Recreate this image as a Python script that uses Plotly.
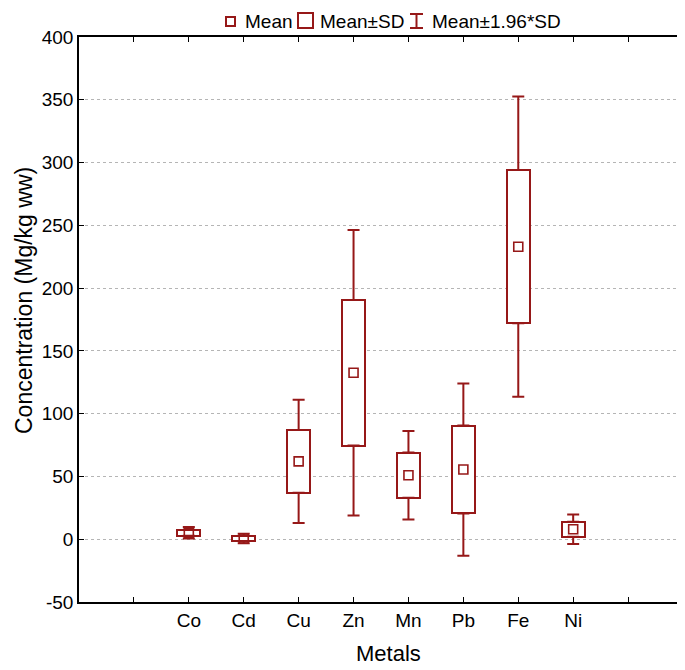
import plotly.graph_objects as go

# data (Mg/kg ww)
metals = ["Co", "Cd", "Cu", "Zn", "Mn", "Pb", "Fe", "Ni"]
means = [5.2, 0.55, 62, 132.6, 51, 55.5, 233, 8]
sds = [2.35, 1.95, 25, 58, 18, 35, 61, 6]
k = 1.96

y_ticks = [-50, 0, 50, 100, 150, 200, 250, 300, 350, 400]

positions = [i + 2 for i in range(len(metals))]
tick_pos = list(range(1, len(metals) + 3))
tick_text = [""] + metals + [""]

RED = "#961818"
FONT = "Liberation Sans, Arial, sans-serif"

# the page body adds an 8px offset, so the figure is a bit smaller than the window
OFF = 8
W, H = 685 - OFF, 670 - OFF
PLOT_L, PLOT_R, PLOT_T, PLOT_B = 79, 683, 37, 602   # plot frame in page pixels
ML, MR = PLOT_L - OFF, W - (PLOT_R - OFF)
MT, MB = PLOT_T - OFF, H - (PLOT_B - OFF)


def px_x(px):
    return (px - PLOT_L) / (PLOT_R - PLOT_L)


def px_y(py):
    return (PLOT_B - py) / (PLOT_B - PLOT_T)


lo_sd = [m - s for m, s in zip(means, sds)]
hi_sd = [m + s for m, s in zip(means, sds)]
ext = [(k - 1) * s for s in sds]

fig = go.Figure()

# upper / lower whiskers (mean +/- SD out to mean +/- 1.96*SD)
fig.add_trace(go.Scatter(
    x=positions, y=hi_sd, mode="markers",
    marker=dict(size=1, color="rgba(0,0,0,0)"),
    error_y=dict(type="data", symmetric=False, array=ext, arrayminus=[0] * len(ext),
                 color=RED, thickness=2, width=6),
    showlegend=False, hoverinfo="skip"))
fig.add_trace(go.Scatter(
    x=positions, y=lo_sd, mode="markers",
    marker=dict(size=1, color="rgba(0,0,0,0)"),
    error_y=dict(type="data", symmetric=False, array=[0] * len(ext), arrayminus=ext,
                 color=RED, thickness=2, width=6),
    showlegend=False, hoverinfo="skip"))

# mean +/- SD box
fig.add_trace(go.Bar(
    x=positions, y=[2 * s for s in sds], base=lo_sd, width=0.42,
    marker=dict(color="white", line=dict(color=RED, width=2)),
    showlegend=False))

# mean marker
fig.add_trace(go.Scatter(
    x=positions, y=means, mode="markers",
    marker=dict(symbol="square-open", size=9, color=RED, line=dict(width=1.6)),
    showlegend=False))

# legend drawn above the plot
LY = 21  # legend centre line, page pixels
shapes = [
    dict(type="rect", x0=px_x(226), x1=px_x(235), y0=px_y(LY + 5), y1=px_y(LY - 4)),
    dict(type="rect", x0=px_x(298), x1=px_x(313), y0=px_y(LY + 7), y1=px_y(LY - 8)),
    dict(type="line", x0=px_x(416.5), x1=px_x(416.5), y0=px_y(LY + 7), y1=px_y(LY - 7)),
    dict(type="line", x0=px_x(410), x1=px_x(423), y0=px_y(LY - 7), y1=px_y(LY - 7)),
    dict(type="line", x0=px_x(410), x1=px_x(423), y0=px_y(LY + 7), y1=px_y(LY + 7)),
]
for s in shapes:
    s.update(xref="paper", yref="paper", line=dict(color=RED, width=2))
fig.update_layout(shapes=shapes)

for label, left in [("Mean", 243), ("Mean±SD", 318), ("Mean±1.96*SD", 430)]:
    fig.add_annotation(text=label, x=px_x(left), y=px_y(LY), xref="paper", yref="paper",
                       xanchor="left", yanchor="middle", showarrow=False,
                       font=dict(size=19, color="black", family=FONT))

# axis titles
fig.add_annotation(text="Concentration (Mg/kg ww)", textangle=-90,
                   x=px_x(9), y=px_y(301), xref="paper", yref="paper",
                   xanchor="left", yanchor="middle", showarrow=False,
                   font=dict(size=23, color="black", family=FONT))
fig.add_annotation(text="Metals", x=px_x(388), y=px_y(653), xref="paper", yref="paper",
                   xanchor="center", yanchor="middle", showarrow=False,
                   font=dict(size=22, color="black", family=FONT))

fig.update_layout(
    width=W, height=H,
    margin=dict(l=ML, r=MR, t=MT, b=MB, autoexpand=False),
    paper_bgcolor="white", plot_bgcolor="white",
    font=dict(family=FONT, color="black"),
    bargap=0,
)
fig.update_xaxes(
    range=[0, len(metals) + 3], tickvals=tick_pos, ticktext=tick_text,
    showline=True, linecolor="black", linewidth=1.5, mirror="ticks",
    ticks="inside", ticklen=5, tickcolor="black", showgrid=False, zeroline=False,
    tickfont=dict(size=19), automargin=False,
)
fig.update_yaxes(
    range=[-50, 400], tickvals=y_ticks, ticktext=[str(v) for v in y_ticks],
    showline=True, linecolor="black", linewidth=1.5, mirror="ticks",
    ticks="inside", ticklen=5, tickcolor="black",
    showgrid=True, gridcolor="#b5b5b5", griddash="dot", gridwidth=1, zeroline=False,
    tickfont=dict(size=19), automargin=False,
)

fig.write_html("out.html")
